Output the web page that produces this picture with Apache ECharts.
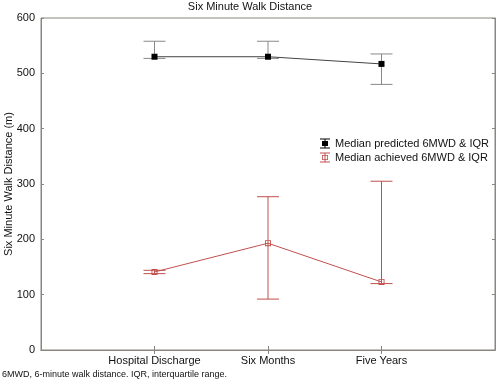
<!DOCTYPE html>
<html><head><meta charset="utf-8">
<script src="https://cdn.jsdelivr.net/npm/echarts@6/dist/echarts.min.js"></script>
<style>html,body{margin:0;padding:0;background:#fff}#c{width:500px;height:382px}</style>
</head><body><div id="c"></div>
<script>
const categories = ['', 'Hospital Discharge', 'Six Months', 'Five Years', ''];
const predictedMedian = [530, 530, 517];
const predictedQ1 = [527, 527, 480];
const predictedQ3 = [558, 558, 535];
const achievedMedian = [141, 193, 123];
const achievedQ1 = [138, 92, 120];
const achievedQ3 = [144, 277, 305];
const yTicks = [0, 100, 200, 300, 400, 500, 600];

const BLACK = '#000';
const RED = '#c0504d';
const AXIS = '#8a8680';
const ERRCOL = ['#888', RED];
const idx = [1, 2, 3];

const errRows = idx.map((x, i) => [x, predictedQ1[i], predictedQ3[i], 0])
  .concat(idx.map((x, i) => [x, achievedQ1[i], achievedQ3[i], 1]));

function errRender(params, api) {
  const x = api.value(0);
  const color = ERRCOL[api.value(3)];
  const lo = api.coord([x, api.value(1)]);
  const hi = api.coord([x, api.value(2)]);
  const hw = 11;
  return {
    type: 'group',
    children: [
      { type: 'polyline', shape: { points: [[lo[0], lo[1]], [hi[0], hi[1]]] },
        style: { stroke: color, lineWidth: 1, fill: 'none' } },
      { type: 'polyline', shape: { points: [[lo[0] - hw, lo[1]], [lo[0] + hw, lo[1]]] },
        style: { stroke: color, lineWidth: 1, fill: 'none' } },
      { type: 'polyline', shape: { points: [[hi[0] - hw, hi[1]], [hi[0] + hw, hi[1]]] },
        style: { stroke: color, lineWidth: 1, fill: 'none' } }
    ]
  };
}
const chart = echarts.init(document.getElementById('c'));
chart.setOption({
  animation: false,
  textStyle: { fontFamily: 'Liberation Sans, Arial, sans-serif' },
  title: { text: 'Six Minute Walk Distance', left: 'center', top: 0, padding: [1, 0, 0, 0],
    textStyle: { fontSize: 11, fontWeight: 'normal', color: '#111' } },
  grid: { left: 41, right: 5, top: 18, bottom: 32, show: true, borderColor: AXIS, borderWidth: 1,
    containLabel: false, outerBoundsMode: 'none' },
  legend: {
    orient: 'vertical', left: 315, top: 133, itemGap: 3, itemWidth: 10, itemHeight: 10,
    textStyle: { fontSize: 11, color: '#111' },
    data: [
      { name: 'Median predicted 6MWD & IQR', icon: 'path://M0,0H10V1H0ZM4.5,0H5.5V10H4.5ZM0,9H10V10H0ZM2,2.5H8V7.5H2Z', itemStyle: { color: BLACK } },
      { name: 'Median achieved 6MWD & IQR', icon: 'path://M0,0H10V1H0ZM4.5,0H5.5V10H4.5ZM0,9H10V10H0ZM2,2.5H8V3.3H2ZM2,6.7H8V7.5H2ZM2,2.5H2.8V7.5H2ZM7.2,2.5H8V7.5H7.2Z', itemStyle: { color: RED } }
    ]
  },
  xAxis: [
    { type: 'category', data: categories, boundaryGap: false, position: 'bottom',
      axisLine: { lineStyle: { color: AXIS } },
      axisTick: { inside: true, length: 4, lineStyle: { color: AXIS }, interval: (i) => i >= 1 && i <= 3 },
      axisLabel: { fontSize: 11, color: '#111', margin: 5, interval: 0 } },
    { type: 'category', data: categories, boundaryGap: false, position: 'top',
      axisLine: { lineStyle: { color: AXIS } },
      axisTick: { inside: true, length: 4, lineStyle: { color: AXIS }, interval: (i) => i >= 1 && i <= 3 },
      axisLabel: { show: false } }
  ],
  yAxis: [
    { type: 'value', min: 0, max: 600, interval: 100, position: 'left',
      name: 'Six Minute Walk Distance (m)', nameLocation: 'middle', nameGap: 27, nameMoveOverlap: false,
      nameTextStyle: { fontSize: 11, color: '#111' },
      axisLine: { show: true, lineStyle: { color: AXIS } },
      axisTick: { show: true, inside: true, length: 3, lineStyle: { color: AXIS } },
      splitLine: { show: false },
      axisLabel: { fontSize: 11, color: '#111', margin: 6, formatter: (v) => yTicks.includes(v) ? String(v) : '' } },
    { type: 'value', min: 0, max: 600, interval: 100, position: 'right',
      axisLine: { show: true, lineStyle: { color: AXIS } },
      axisTick: { show: true, inside: true, length: 3, lineStyle: { color: AXIS } },
      splitLine: { show: false }, axisLabel: { show: false } }
  ],
  graphic: [{ type: 'text', left: 2, top: 370,
    style: { text: '6MWD, 6-minute walk distance. IQR, interquartile range.', fontSize: 9, fill: '#111',
      fontFamily: 'Liberation Sans, Arial, sans-serif' } }],
  series: [
    { type: 'custom', name: 'IQR', renderItem: errRender, data: errRows,
      encode: { x: 0, y: [1, 2] }, z: 2 },
    { type: 'line', name: 'Median predicted 6MWD & IQR', data: idx.map((x, i) => [x, predictedMedian[i]]),
      symbol: 'rect', symbolSize: 6, color: BLACK,
      lineStyle: { color: '#444', width: 1 }, itemStyle: { color: '#000' }, z: 3 },
    { type: 'line', name: 'Median achieved 6MWD & IQR', data: idx.map((x, i) => [x, achievedMedian[i]]),
      symbol: 'path://M0,0H10V10H0ZM1.5,1.5V8.5H8.5V1.5Z', symbolSize: 6, color: RED,
      lineStyle: { color: RED, width: 1 }, itemStyle: { color: RED }, z: 3 }
  ]
});
</script></body></html>
